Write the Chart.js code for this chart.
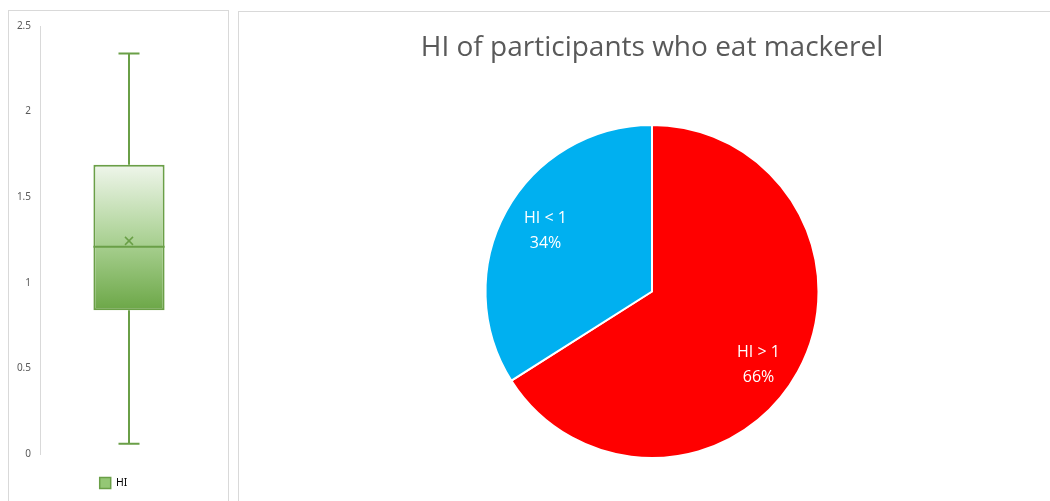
<!DOCTYPE html>
<html>
<head>
<meta charset="utf-8">
<script src="https://cdn.jsdelivr.net/npm/chart.js@4.4.1/dist/chart.umd.min.js"></script>
<style>
    html, body { margin: 0; padding: 0; background: #fff; overflow: hidden; }
    .panel { position: absolute; border: 1px solid #d9d9d9; background: #fff; }
    #boxPanel { left: 8px; top: 10px; width: 219px; height: 520px; }
    #piePanel { left: 238px; top: 11px; width: 840px; height: 520px; }
    canvas { position: absolute; left: 0; top: 0; }
</style>
</head>
<body>
<div class="panel" id="boxPanel"><canvas id="boxChart" width="218" height="490"></canvas></div>
<div class="panel" id="piePanel"><canvas id="pieChart" width="811" height="489"></canvas></div>
<script>
// HI summary for the box plot
const boxLabels = ['HI'];
const hiQuartiles = [0.84, 1.21, 1.69];   // Q1, median, Q3
const hiWhiskers = [0.06, 2.34];          // min, max
const hiMean = [1.245];
const yTicks = [0, 0.5, 1, 1.5, 2, 2.5];

// share of participants by HI
const pieLabels = ['HI > 1', 'HI < 1'];
const pieValues = [66, 34];

Chart.defaults.font.family = '"Noto Sans", sans-serif';
Chart.defaults.color = '#595959';

const green = '#6a9f47';

// whiskers, median line and mean marker on top of the floating bar
const boxExtras = {
    id: 'boxExtras',
    afterDatasetsDraw(chart) {
        const { ctx, scales: { y } } = chart;
        const bar = chart.getDatasetMeta(0).data[0];
        const cx = bar.x;
        const half = bar.width / 2;
        const cap = 10.5;
        ctx.save();
        ctx.strokeStyle = green;
        ctx.lineWidth = 2;
        // median
        ctx.beginPath();
        ctx.moveTo(cx - half, y.getPixelForValue(hiQuartiles[1]));
        ctx.lineTo(cx + half, y.getPixelForValue(hiQuartiles[1]));
        ctx.stroke();
        // whiskers
        const yMin = y.getPixelForValue(hiWhiskers[0]);
        const yMax = y.getPixelForValue(hiWhiskers[1]);
        ctx.beginPath();
        ctx.moveTo(cx, y.getPixelForValue(hiQuartiles[2]));
        ctx.lineTo(cx, yMax);
        ctx.moveTo(cx - cap, yMax);
        ctx.lineTo(cx + cap, yMax);
        ctx.moveTo(cx, y.getPixelForValue(hiQuartiles[0]));
        ctx.lineTo(cx, yMin);
        ctx.moveTo(cx - cap, yMin);
        ctx.lineTo(cx + cap, yMin);
        ctx.stroke();
        // mean
        const my = y.getPixelForValue(hiMean[0]);
        const s = 4;
        ctx.lineWidth = 1.5;
        ctx.beginPath();
        ctx.moveTo(cx - s, my - s);
        ctx.lineTo(cx + s, my + s);
        ctx.moveTo(cx + s, my - s);
        ctx.lineTo(cx - s, my + s);
        ctx.stroke();
        ctx.restore();
    }
};

new Chart(document.getElementById('boxChart'), {
    type: 'bar',
    data: {
        labels: boxLabels,
        datasets: [{
            label: 'HI',
            data: [[hiQuartiles[0], hiQuartiles[2]]],
            backgroundColor(context) {
                const { ctx, chartArea } = context.chart;
                if (!chartArea) return '#a9d18e';
                const y = context.chart.scales.y;
                const g = ctx.createLinearGradient(0, y.getPixelForValue(hiQuartiles[2]), 0, y.getPixelForValue(hiQuartiles[0]));
                g.addColorStop(0, '#eff6eb');
                g.addColorStop(0.55, '#a7cf8f');
                g.addColorStop(1, '#6ca747');
                return g;
            },
            borderColor: green,
            borderWidth: 2,
            borderSkipped: false,
            barPercentage: 0.4,
            categoryPercentage: 1
        }]
    },
    options: {
        responsive: false,
        animation: false,
        layout: { padding: { top: 14, right: 9, bottom: 2.5, left: 0 } },
        scales: {
            x: { display: false },
            y: {
                min: 0,
                max: 2.5,
                afterBuildTicks(scale) {
                    scale.ticks = yTicks.map(v => ({ value: v }));
                },
                afterFit(scale) { scale.width = 31; },
                grid: { display: false, drawTicks: false },
                border: { display: true, color: '#d9d9d9', width: 1 },
                ticks: {
                    padding: 9,
                    font: { size: 10 },
                    color: '#595959',
                    callback: v => String(v)
                }
            }
        },
        plugins: {
            tooltip: { enabled: false },
            legend: {
                position: 'bottom',
                labels: {
                    boxWidth: 11,
                    boxHeight: 11,
                    padding: 23.5,
                    font: { size: 10.5 },
                    color: '#595959',
                    generateLabels: () => [{
                        text: 'HI',
                        fillStyle: '#94c775',
                        strokeStyle: green,
                        lineWidth: 1.5,
                        datasetIndex: 0
                    }]
                }
            }
        }
    },
    plugins: [boxExtras]
});

// category name and percentage inside each slice
const labelShift = [15, -2];
const sliceLabels = {
    id: 'sliceLabels',
    afterDatasetsDraw(chart) {
        const { ctx } = chart;
        const total = pieValues.reduce((a, b) => a + b, 0);
        ctx.save();
        ctx.fillStyle = '#ffffff';
        ctx.font = '16px "Open Sans", sans-serif';
        ctx.textAlign = 'center';
        ctx.textBaseline = 'middle';
        chart.getDatasetMeta(0).data.forEach((arc, i) => {
            const { x, y, startAngle, endAngle, outerRadius } = arc.getProps(['x', 'y', 'startAngle', 'endAngle', 'outerRadius']);
            const mid = (startAngle + endAngle) / 2;
            const r = outerRadius * 0.73;
            const lx = x + Math.cos(mid) * r;
            const ly = y + Math.sin(mid) * r + labelShift[i];
            ctx.fillText(pieLabels[i], lx, ly - 12.5);
            ctx.fillText(Math.round(pieValues[i] / total * 100) + '%', lx, ly + 12.5);
        });
        ctx.restore();
    }
};

new Chart(document.getElementById('pieChart'), {
    type: 'pie',
    data: {
        labels: pieLabels,
        datasets: [{
            data: pieValues,
            backgroundColor: ['#ff0000', '#00b0f0'],
            borderColor: '#ffffff',
            borderWidth: 2
        }]
    },
    options: {
        responsive: false,
        animation: false,
        // chart area centred on x = 413 so the pie sits under the title
        layout: { padding: { top: 0, right: 0, bottom: 42, left: 15 } },
        plugins: {
            legend: { display: false },
            tooltip: { enabled: false },
            title: {
                display: true,
                text: 'HI of participants who eat mackerel',
                color: '#595959',
                font: { family: '"Open Sans", sans-serif', size: 28, weight: 'normal', lineHeight: 1.2 },
                padding: { top: 19.5, bottom: 58.9 }
            }
        }
    },
    plugins: [sliceLabels]
});
</script>
</body>
</html>
